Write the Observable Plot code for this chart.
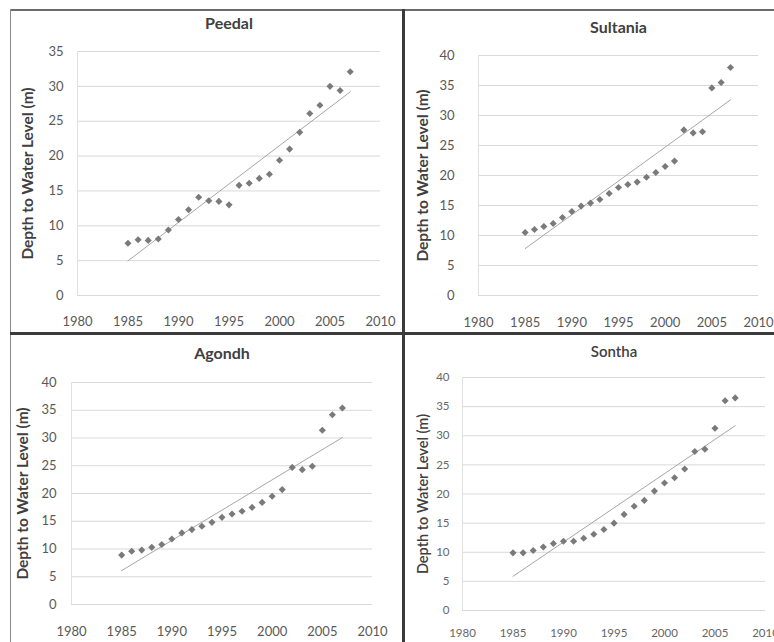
<!DOCTYPE html>
<html>
<head>
<meta charset="utf-8">
<script src="https://cdn.jsdelivr.net/npm/d3@7"></script>
<script src="https://cdn.jsdelivr.net/npm/@observablehq/plot@0.6"></script>
<style>
  html, body { margin: 0; padding: 0; background: #fff; }
  #root { position: relative; width: 774px; height: 642px; overflow: hidden; font-family: Lato, "Open Sans", sans-serif; }
  .line { position: absolute; }
</style>
</head>
<body>
<div id="root"></div>
<script>
const years = [1985,1986,1987,1988,1989,1990,1991,1992,1993,1994,1995,1996,1997,1998,1999,2000,2001,2002,2003,2004,2005,2006,2007];
const peedal   = [7.5,8.0,7.9,8.1,9.4,10.9,12.3,14.1,13.6,13.5,13.0,15.8,16.1,16.8,17.4,19.4,21.0,23.4,26.1,27.3,30.0,29.4,32.1];
const sultania = [10.5,11.0,11.5,12.0,13.0,14.0,14.9,15.4,16.0,17.0,18.0,18.5,18.9,19.7,20.5,21.5,22.4,27.6,27.1,27.3,34.6,35.5,38.0];
const agondh   = [8.9,9.6,9.8,10.3,10.8,11.8,12.9,13.5,14.1,14.8,15.7,16.3,16.8,17.5,18.4,19.5,20.7,24.7,24.3,24.9,31.4,34.2,35.4];
const sontha   = [9.9,9.9,10.3,10.9,11.5,11.9,11.9,12.4,13.1,13.9,15.0,16.5,17.9,18.9,20.5,21.9,22.8,24.3,27.3,27.7,31.3,36.0,36.5];
const xTicks = [1980,1985,1990,1995,2000,2005,2010];
const yTicks35 = [0,5,10,15,20,25,30,35];
const yTicks40 = [0,5,10,15,20,25,30,35,40];
const yLabel = "Depth to Water Level (m)";

const root = document.getElementById("root");

function panel(o) {
  const data = years.map((yr, i) => ({year: yr, depth: o.values[i]}));
  const chart = Plot.plot({
    width: o.width, height: o.height,
    marginTop: o.mt, marginRight: o.mr, marginBottom: o.mb, marginLeft: o.ml,
    style: {fontFamily: "Lato, 'Open Sans', sans-serif", fontSize: o.fs + "px", color: "#595959", background: "transparent", overflow: "visible"},
    x: {domain: [1980, 2010], ticks: xTicks, label: null},
    y: {domain: [0, o.yTicks[o.yTicks.length - 1]], ticks: o.yTicks, label: null},
    marks: [
      Plot.ruleY(o.yTicks, {stroke: "#d9d9d9", strokeWidth: 1}),
      Plot.ruleX([1980], {stroke: "#e0e0e0", strokeWidth: 1}),
      Plot.axisX({ticks: xTicks, tickSize: 0, tickPadding: o.xPad, tickFormat: d => String(d), fill: o.tkc, fontSize: o.fs, fontWeight: o.tkw, label: null}),
      Plot.axisY({ticks: o.yTicks, tickSize: 0, tickPadding: o.yPad, fill: o.tkc, fontSize: o.fs, fontWeight: o.tkw, label: null}),
      Plot.linearRegressionY(data, {x: "year", y: "depth", ci: 0, stroke: "#a6a6a6", strokeWidth: 1}),
      Plot.dot(data, {x: "year", y: "depth", symbol: "diamond2", r: 3.2, fill: "#7a7a7a", stroke: "none"}),
      Plot.text([o.name], {frameAnchor: "top", lineAnchor: "middle", dy: o.titleY - o.mt, text: d => d, fontSize: o.ts, fontWeight: o.tw, fill: "#404040"}),
      Plot.text([yLabel], {frameAnchor: "left", textAnchor: "middle", lineAnchor: "middle", dx: o.labelX - o.ml, rotate: -90, text: d => d, fontSize: o.ls, fontWeight: o.lw, fill: "#404040"})
    ]
  });
  chart.style.left = o.left + "px";
  chart.style.top = o.top + "px";
  chart.style.position = "absolute";
  root.appendChild(chart);
}

panel({name: "Peedal", values: peedal, yTicks: yTicks35, left: 10, top: 10, width: 394, height: 323,
  mt: 41, mr: 24, mb: 38, ml: 67, titleY: 13, labelX: 18, yPad: 14, xPad: 21, fs: 13, tkw: "normal", tkc: "#595959", ts: 16, tw: "bold", ls: 15.5, lw: "bold"});
panel({name: "Sultania", values: sultania, yTicks: yTicks40, left: 405, top: 10, width: 369, height: 323,
  mt: 45, mr: 16, mb: 38, ml: 73, titleY: 17, labelX: 18, yPad: 24, xPad: 22, fs: 13, tkw: "normal", tkc: "#595959", ts: 16, tw: "bold", ls: 15.5, lw: "bold"});
panel({name: "Agondh", values: agondh, yTicks: yTicks40, left: 10, top: 334, width: 394, height: 308,
  mt: 48, mr: 32, mb: 38, ml: 61, titleY: 19, labelX: 13, yPad: 15, xPad: 22, fs: 13, tkw: "normal", tkc: "#595959", ts: 16, tw: "bold", ls: 15.5, lw: "bold"});
panel({name: "Sontha", values: sontha, yTicks: yTicks40, left: 405, top: 334, width: 369, height: 308,
  mt: 43, mr: 9, mb: 32, ml: 57, titleY: 18, labelX: 18, yPad: 13, xPad: 18, fs: 11.5, tkw: "normal", tkc: "#666666", ts: 15, tw: "600", ls: 14.5, lw: "600"});

// panel borders
function line(l, t, w, h, c) {
  const d = document.createElement("div");
  d.className = "line";
  d.style.left = l + "px"; d.style.top = t + "px";
  d.style.width = w + "px"; d.style.height = h + "px";
  d.style.background = c;
  root.appendChild(d);
}
line(10, 9, 764, 2, "#6b6b6b");
line(10, 9, 1, 633, "#8a8a8a");
line(402, 9, 3, 633, "#3a3a3a");
line(10, 332, 764, 3, "#3a3a3a");
</script>
</body>
</html>
